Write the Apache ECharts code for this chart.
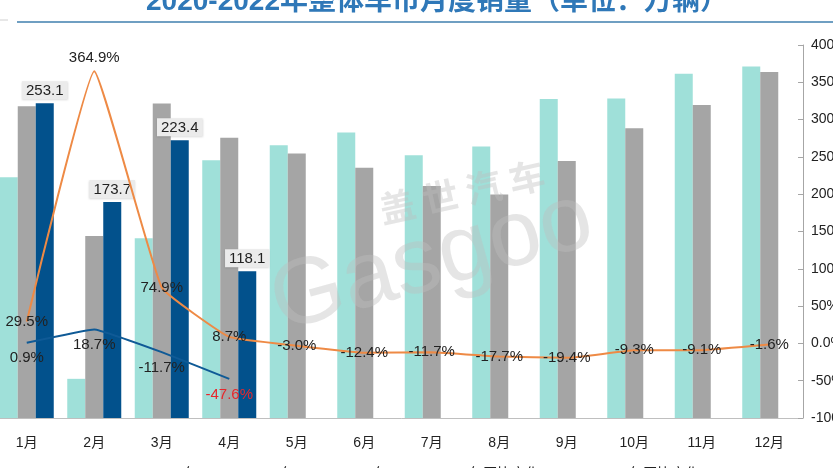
<!DOCTYPE html>
<html>
<head>
<meta charset="utf-8">
<script src="https://cdn.jsdelivr.net/npm/echarts@6/dist/echarts.min.js"></script>
<style>html,body{margin:0;padding:0;background:#fff;}#c{width:833px;height:468px;}</style>
</head>
<body>
<div id="c"></div>
<script>
var months = ['1月','2月','3月','4月','5月','6月','7月','8月','9月','10月','11月','12月'];
var sales2020 = [193.7, 31.5, 144.6, 207.4, 219.3, 229.6, 211.4, 218.4, 256.5, 256.9, 276.9, 282.8];
var sales2021 = [250.8, 146.3, 253.0, 225.4, 212.7, 201.2, 186.6, 179.7, 206.8, 233.0, 251.7, 278.3];
var sales2022 = [253.1, 173.7, 223.4, 118.1];
var yoy2021 = [29.5, 364.9, 74.9, 8.7, -3.0, -12.4, -11.7, -17.7, -19.4, -9.3, -9.1, -1.6];
var yoy2022 = [0.9, 18.7, -11.7, -47.6];
var rightTicks = [-100, 400, 50];

var FONT = '"Liberation Sans", Arial, "Noto Sans CJK SC", sans-serif';
var chart = echarts.init(document.getElementById('c'), null, {renderer: 'canvas'});

function legendAt(name, left, icon) {
  return {
    data: [{name: name, icon: icon}],
    left: left, top: 462,
    itemWidth: 20, itemHeight: icon === 'rect' ? 10 : 14, itemGap: 5,
    textStyle: {fontSize: 14, color: '#222', fontFamily: FONT}
  };
}

var option = {
  backgroundColor: '#fff',
  animation: false,
  textStyle: {fontFamily: FONT},
  title: {
    text: '2020-2022年整体车市月度销量（单位：万辆）',
    left: 432, textAlign: 'center', top: -17,
    textStyle: {fontSize: 28, fontWeight: 'bold', color: '#2f78b8', fontFamily: FONT}
  },
  legend: [
    legendAt('2020年', 123, 'rect'),
    legendAt('2021年', 220, 'rect'),
    legendAt('2022年', 313, 'rect'),
    legendAt('2021年同比变化', 408, 'line'),
    legendAt('2022年同比变化', 568, 'line')
  ],
  grid: {left: -7, right: 30, top: 45, bottom: 50, containLabel: false, outerBoundsMode: 'none'},
  xAxis: {
    type: 'category', data: months, boundaryGap: true,
    axisLine: {lineStyle: {color: '#bfbfbf', width: 1}},
    axisTick: {show: false},
    axisLabel: {fontSize: 14, color: '#222', margin: 18, fontFamily: FONT}
  },
  yAxis: [
    {type: 'value', min: 0, max: 300, interval: 30, show: false, splitLine: {show: false}},
    {type: 'value', position: 'right', min: rightTicks[0], max: rightTicks[1], interval: rightTicks[2],
     axisLine: {show: true, lineStyle: {color: '#a6a6a6'}},
     axisTick: {show: true, inside: true, length: 5, lineStyle: {color: '#a6a6a6'}},
     splitLine: {show: false},
     axisLabel: {fontSize: 14, color: '#222', margin: 8, fontFamily: FONT, hideOverlap: false,
       formatter: function (v) { return v === 0 ? '0.0%' : v + '%'; }}}
  ],
  series: [
    {name: '2020年', type: 'bar', data: sales2020, yAxisIndex: 0,
     barGap: '0%', barCategoryGap: '20%', itemStyle: {color: '#9fe0d9'}},
    {name: '2021年', type: 'bar', data: sales2021, yAxisIndex: 0,
     barGap: '0%', barCategoryGap: '20%', itemStyle: {color: '#a5a5a5'}},
    {name: '2022年', type: 'bar', data: sales2022, yAxisIndex: 0,
     barGap: '0%', barCategoryGap: '20%', itemStyle: {color: '#02518c'},
     label: {show: true, position: 'top', distance: 4, fontSize: 15, color: '#222',
       backgroundColor: '#ebebeb', padding: [2, 4, 1, 4], fontFamily: FONT,
       shadowColor: 'rgba(0,0,0,0.15)', shadowBlur: 2, shadowOffsetY: 1}},
    {name: '2021年同比变化', type: 'line', data: yoy2021.map(function (v, i) {
        return i === 1 ? {value: v, label: {position: 'top', distance: 6}} : v; }),
     yAxisIndex: 1, smooth: 0.1, symbol: 'circle', symbolSize: 0.1, showSymbol: true, z: 5,
     lineStyle: {color: '#ee8a45', width: 2}, itemStyle: {color: '#ee8a45'},
     labelLayout: {hideOverlap: false},
     label: {show: true, position: 'inside', fontSize: 15, color: '#222', fontFamily: FONT,
       formatter: function (p) { return p.value.toFixed(1) + '%'; }}},
    {name: '2022年同比变化', type: 'line', data: yoy2022.map(function (v, i) {
        return i === 3 ? {value: v, label: {color: '#e8262b'}} : v; }),
     yAxisIndex: 1, smooth: 0.08, symbol: 'circle', symbolSize: 0.1, showSymbol: true, z: 5,
     lineStyle: {color: '#0f5a96', width: 2}, itemStyle: {color: '#0f5a96'},
     labelLayout: {hideOverlap: false},
     label: {show: true, position: 'bottom', distance: 8, fontSize: 15, color: '#222', fontFamily: FONT,
       formatter: function (p) { return p.value.toFixed(1) + '%'; }}}
  ],
  graphic: [
    {type: 'line', shape: {x1: 17, y1: 22, x2: 833, y2: 22}, style: {stroke: '#3f7fae', lineWidth: 1.5}, z: 10},
    {type: 'line', shape: {x1: 0, y1: 20, x2: 8, y2: 20}, style: {stroke: '#d0d0d0', lineWidth: 1}, z: 10},
    {type: 'text', x: 432, y: 262, rotation: 0.27, z: 100,
     style: {text: 'Gasgoo', fontSize: 94, fontFamily: FONT, fill: 'rgba(190,190,190,0.4)',
       textAlign: 'center', textVerticalAlign: 'middle'}},
    {type: 'text', x: 462, y: 192, rotation: 0.22, z: 100,
     style: {text: '盖 世 汽 车', fontSize: 36, fontWeight: 'bold', fontFamily: '"Noto Sans CJK SC", sans-serif',
       fill: 'rgba(190,190,190,0.4)', textAlign: 'center', textVerticalAlign: 'middle'}}
  ]
};
chart.setOption(option);
</script>
</body>
</html>
